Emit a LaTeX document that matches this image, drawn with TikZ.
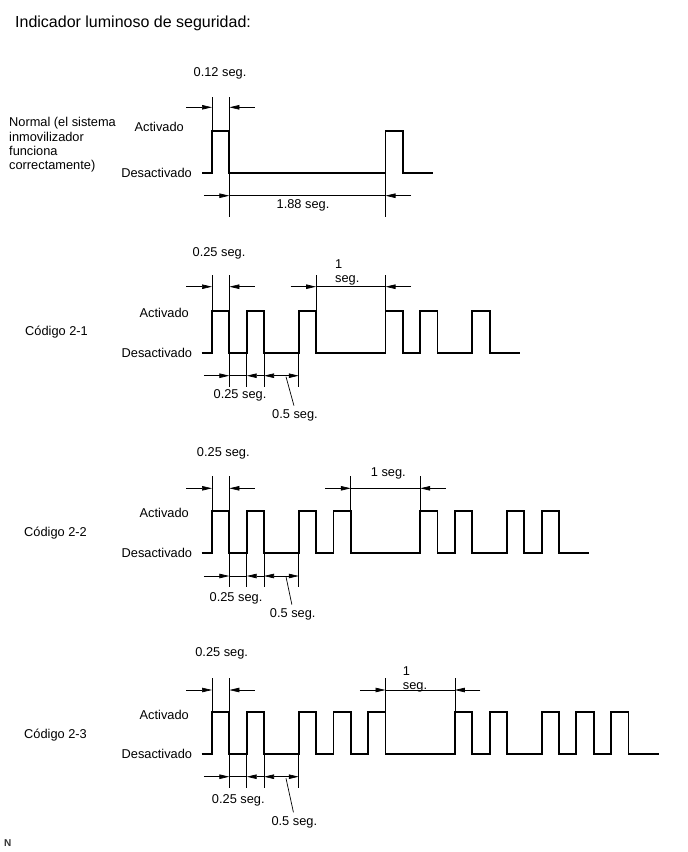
\documentclass[tikz,border=0pt]{standalone}
\usepackage{fontspec}
\setmainfont{Liberation Sans}
\usetikzlibrary{arrows.meta}
\newcommand{\tiempo}[1]{{212+17.35*(#1)}}

\tikzset{
  signal/.style={line width=1.8pt, line join=miter},
  cota/.style={line width=0.7pt},
  flecha/.style={cota, -{Triangle[length=10pt,width=4.5pt]}},
  flechas/.style={cota, {Triangle[length=10pt,width=4.5pt]}-{Triangle[length=10pt,width=4.5pt]}},
  texto/.style={inner sep=0pt, font=\fontsize{12.8}{14.3}\selectfont},
}

\begin{document}
\begin{tikzpicture}[x=1pt, y=-1pt]
  \useasboundingbox (0,0) rectangle (688,852);
  % title
  \node[texto, anchor=west, font=\fontsize{16}{19}\selectfont] (titulo) at (15,23) {Indicador luminoso de seguridad:};

  % normal
  \begin{scope}[shift={(0,173)}]
    \node[texto, anchor=west, align=left] (normal) at (9,-28) {Normal (el sistema\\inmovilizador\\funciona\\correctamente)};
    \node[texto, anchor=east] (act0) at (184,-46) {Activado};
    \node[texto, anchor=east] (des0) at (192,0) {Desactivado};
    % signal
    \draw[signal] (202,0) \foreach \p in {0,10} { -- (\tiempo{\p},0) -- (\tiempo{\p},-42) -- (\tiempo{\p+1},-42) -- (\tiempo{\p+1},0) } -- (\tiempo{12.75},0);
    % 0.12 seg.
    \foreach \p in {0,1}
      \draw[cota] (\tiempo{\p},-42) -- (\tiempo{\p},-76.3);
    \draw[flecha] (\tiempo{-1.47},-65.7) -- (\tiempo{0},-65.7);
    \draw[flecha] (\tiempo{2.47},-65.7) -- (\tiempo{1},-65.7);
    \node[texto] (t012) at (220,-99.5) {0.12 seg.};
    % 1.88 seg.
    \foreach \p in {1,10}
      \draw[cota] (\tiempo{\p},0) -- (\tiempo{\p},43.7);
    \draw[flecha] (\tiempo{-0.47},22.7) -- (\tiempo{1},22.7);
    \draw[cota] (\tiempo{1},22.7) -- (\tiempo{10},22.7);
    \draw[flecha] (\tiempo{11.47},22.7) -- (\tiempo{10},22.7);
    \node[texto] (t188) at (303,32.5) {1.88 seg.};
  \end{scope}

  % codigo 2-1
  \begin{scope}[shift={(0,352.7)}]
    \node[texto, anchor=west] (cod1) at (25,-20.4) {Código 2-1};
    \node[texto, anchor=east] (act1) at (189,-40) {Activado};
    \node[texto, anchor=east] (des1) at (192.3,0) {Desactivado};
    % signal
    \draw[signal] (201.7,0) \foreach \p in {0,2,5,10,12,15} { -- (\tiempo{\p},0) -- (\tiempo{\p},-42) -- (\tiempo{\p+1},-42) -- (\tiempo{\p+1},0) } -- (\tiempo{17.75},0);
    % 0.25 seg. / 1 seg.
    \foreach \p in {0,1,6,10}
      \draw[cota] (\tiempo{\p},-42) -- (\tiempo{\p},-77.5);
    \draw[flecha] (\tiempo{-1.47},-66) -- (\tiempo{0},-66);
    \draw[flecha] (\tiempo{2.47},-66) -- (\tiempo{1},-66);
    \node[texto] (t025a1) at (219,-99.5) {0.25 seg.};
    \draw[flecha] (\tiempo{4.53},-66) -- (\tiempo{6},-66);
    \draw[cota] (\tiempo{6},-66) -- (\tiempo{10},-66);
    \draw[flecha] (\tiempo{11.47},-66) -- (\tiempo{10},-66);
    \node[texto, anchor=west, align=left] (t1s1) at (335,-80.2) {1\\seg.};
    % 0.25 seg. / 0.5 seg.
    \foreach \p in {1,2,3,5}
      \draw[cota] (\tiempo{\p},0) -- (\tiempo{\p},34);
    \draw[flecha] (\tiempo{-0.47},23) -- (\tiempo{1},23);
    \draw[cota] (\tiempo{1},23) -- (\tiempo{2},23);
    \draw[flecha] (\tiempo{3},23) -- (\tiempo{2},23);
    \draw[flechas] (\tiempo{3},23) -- (\tiempo{5},23);
    \node[texto] (t025b1) at (240,42.8) {0.25 seg.};
    \node[texto] (t05s1) at (295,62.8) {0.5 seg.};
    \coordinate (p05s1) at (286,24);
    \draw[cota, shorten >=4pt] (p05s1) -- (t05s1.north);
  \end{scope}

  % codigo 2-2
  \begin{scope}[shift={(0,553.3)}]
    \node[texto, anchor=west] (cod2) at (24,-20.3) {Código 2-2};
    \node[texto, anchor=east] (act2) at (189,-40) {Activado};
    \node[texto, anchor=east] (des2) at (192.3,0) {Desactivado};
    % signal
    \draw[signal] (201.7,0) \foreach \p in {0,2,5,7,12,14,17,19} { -- (\tiempo{\p},0) -- (\tiempo{\p},-42) -- (\tiempo{\p+1},-42) -- (\tiempo{\p+1},0) } -- (\tiempo{21.75},0);
    % 0.25 seg. / 1 seg.
    \foreach \p in {0,1,8,12}
      \draw[cota] (\tiempo{\p},-42) -- (\tiempo{\p},-77.3);
    \draw[flecha] (\tiempo{-1.47},-65) -- (\tiempo{0},-65);
    \draw[flecha] (\tiempo{2.47},-65) -- (\tiempo{1},-65);
    \node[texto] (t025a2) at (223.3,-99.5) {0.25 seg.};
    \draw[flecha] (\tiempo{6.53},-65) -- (\tiempo{8},-65);
    \draw[cota] (\tiempo{8},-65) -- (\tiempo{12},-65);
    \draw[flecha] (\tiempo{13.47},-65) -- (\tiempo{12},-65);
    \node[texto] (t1s2) at (388.3,-79.5) {1 seg.};
    % 0.25 seg. / 0.5 seg.
    \foreach \p in {1,2,3,5}
      \draw[cota] (\tiempo{\p},0) -- (\tiempo{\p},33.4);
    \draw[flecha] (\tiempo{-0.47},22.7) -- (\tiempo{1},22.7);
    \draw[cota] (\tiempo{1},22.7) -- (\tiempo{2},22.7);
    \draw[flecha] (\tiempo{3},22.7) -- (\tiempo{2},22.7);
    \draw[flechas] (\tiempo{3},22.7) -- (\tiempo{5},22.7);
    \node[texto] (t025b2) at (236,44.9) {0.25 seg.};
    \node[texto] (t05s2) at (292.7,61.2) {0.5 seg.};
    \coordinate (p05s2) at (286,23.4);
    \draw[cota, shorten >=4pt] (p05s2) -- (t05s2.north);
  \end{scope}

  % codigo 2-3
  \begin{scope}[shift={(0,754.3)}]
    \node[texto, anchor=west] (cod3) at (24,-19.3) {Código 2-3};
    \node[texto, anchor=east] (act3) at (189,-39) {Activado};
    \node[texto, anchor=east] (des3) at (192.3,0) {Desactivado};
    % signal
    \draw[signal] (201.7,0) \foreach \p in {0,2,5,7,9,14,16,19,21,23} { -- (\tiempo{\p},0) -- (\tiempo{\p},-42.5) -- (\tiempo{\p+1},-42.5) -- (\tiempo{\p+1},0) } -- (\tiempo{25.75},0);
    % 0.25 seg. / 1 seg.
    \foreach \p in {0,1,10,14}
      \draw[cota] (\tiempo{\p},-42.5) -- (\tiempo{\p},-76);
    \draw[flecha] (\tiempo{-1.47},-64.3) -- (\tiempo{0},-64.3);
    \draw[flecha] (\tiempo{2.47},-64.3) -- (\tiempo{1},-64.3);
    \node[texto] (t025a3) at (221.7,-101) {0.25 seg.};
    \draw[flecha] (\tiempo{8.53},-64.3) -- (\tiempo{10},-64.3);
    \draw[cota] (\tiempo{10},-64.3) -- (\tiempo{14},-64.3);
    \draw[flecha] (\tiempo{15.47},-64.3) -- (\tiempo{14},-64.3);
    \node[texto, anchor=west, align=left] (t1s3) at (402.7,-74.6) {1\\seg.};
    % 0.25 seg. / 0.5 seg.
    \foreach \p in {1,2,3,5}
      \draw[cota] (\tiempo{\p},0) -- (\tiempo{\p},34);
    \draw[flecha] (\tiempo{-0.47},22.4) -- (\tiempo{1},22.4);
    \draw[cota] (\tiempo{1},22.4) -- (\tiempo{2},22.4);
    \draw[flecha] (\tiempo{3},22.4) -- (\tiempo{2},22.4);
    \draw[flechas] (\tiempo{3},22.4) -- (\tiempo{5},22.4);
    \node[texto] (t025b3) at (238.3,46.2) {0.25 seg.};
    \node[texto] (t05s3) at (294.3,67.9) {0.5 seg.};
    \coordinate (p05s3) at (286,24);
    \draw[cota, shorten >=4pt] (p05s3) -- (t05s3.north);
  \end{scope}

  % N
  \node[inner sep=0pt, anchor=west, text=black!80, font=\fontsize{10}{12}\bfseries] (marca) at (4,843.5) {N};
\end{tikzpicture}
\end{document}
